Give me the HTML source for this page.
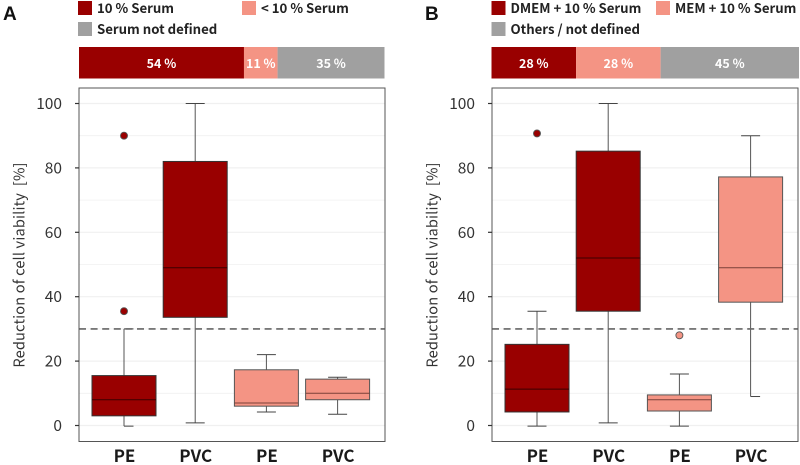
<!DOCTYPE html>
<html>
<head>
<meta charset="utf-8">
<style>
html,body{margin:0;padding:0;background:#fff;width:800px;height:465px;overflow:hidden}
svg{display:block}
text{font-family:"Noto Sans CJK JP","Liberation Sans",sans-serif}
</style>
</head>
<body>
<svg id="chart" xmlns="http://www.w3.org/2000/svg" width="800" height="465" viewBox="0 0 800 465"></svg>
<script>
const yTicks = [0, 20, 40, 60, 80, 100];
const gridValues = [0, 10, 20, 30, 40, 50, 60, 70, 80, 90, 100];
const threshold = 30;
const categoriesA = ["PE", "PVC", "PE", "PVC"];
const categoriesB = ["PE", "PVC", "PE", "PVC"];
const whiskerLowA = [-0.2, 0.8, 4.2, 3.5];
const q1A = [3, 33.6, 6, 8];
const medianA = [8, 49, 7, 10];
const q3A = [15.5, 82, 17.3, 14.4];
const whiskerHighA = [30, 100, 22, 15];
const outliersA = [[35.5, 90], [], [], []];
const groupA = [0, 0, 1, 1];
const whiskerLowB = [-0.2, 0.8, -0.2, 9];
const q1B = [4.2, 35.5, 4.5, 38.3];
const medianB = [11.3, 52, 8, 49];
const q3B = [25.2, 85.2, 9.5, 77.2];
const whiskerHighB = [35.5, 100, 16, 90];
const outliersB = [[90.7], [], [28], []];
const groupB = [0, 0, 1, 1];
const sharesA = [54, 11, 35];
const shareLabelsA = ["54 %", "11 %", "35 %"];
const sharesB = [27.5, 27.5, 45];
const shareLabelsB = ["28 %", "28 %", "45 %"];
const legendA = ["10 % Serum", "< 10 % Serum", "Serum not defined"];
const legendB = ["DMEM + 10 % Serum", "MEM + 10 % Serum", "Others / not defined"];

const colors = ["#990000", "#f49484", "#a0a0a0"];
const medianColors = ["#3a0000", "#7a4038"];
const NS = "http://www.w3.org/2000/svg";
const svg = document.getElementById("chart");

function make(tag, attrs, parent, txt) {
  const e = document.createElementNS(NS, tag);
  for (const k in attrs) e.setAttribute(k, attrs[k]);
  if (txt !== undefined) e.textContent = txt;
  parent.appendChild(e);
  return e;
}
function yScale(v) { return 425.5 - v * 3.22; }

function drawPanel(o) {
  const g = make("g", {}, svg);
  
  
  const xScale = i => o.plotX + 45 + i * 71.2;

  const letter = make("text", {x: o.letterX, y: 20, "font-size": 19, "font-weight": 700, fill: "#111", style: "font-family:'Liberation Sans',sans-serif"}, g, o.letter);
  
  

  // legend
  o.legend.forEach((label, i) => {
    const lx = i === 1 ? o.legendX2 : o.legendX1;
    const ly = i === 2 ? 22 : 1;
    const sw = make("rect", {x: lx, y: ly, width: 14, height: 14, fill: colors[i]}, g);
    
    
    const t = make("text", {x: lx + 19, y: ly + 12, "font-size": 13.2, "font-weight": 700, fill: "#222"}, g, label);
    
    
  });

  // share bar
  const total = o.shares.reduce((a, b) => a + b, 0);
  let cx = o.barX;
  o.shares.forEach((s, i) => {
    const w = s / total * o.barW;
    const r = make("rect", {x: cx, y: 47, width: w, height: 31.5, fill: colors[i]}, g);
    
    
    const t = make("text", {x: cx + w / 2, y: 68, "font-size": 12.5, "font-weight": 700, fill: "#fff", "text-anchor": "middle"}, g, o.shareLabels[i]);
    
    
    cx += w;
  });

  // plot background and grid
  const bg = make("rect", {x: o.plotX, y: 88, width: 306, height: 353.5, fill: "#fff"}, g);
  
  
  gridValues.forEach(v => {
    const l = make("line", {x1: o.plotX, x2: o.plotX + 306, y1: yScale(v), y2: yScale(v), stroke: "#f0f0f0", "stroke-width": v % 20 === 0 ? 1.2 : 0.8}, g);
    
    
  });

  // boxes
  o.categories.forEach((cat, i) => {
    const c = xScale(i);
    const bw = 64;
    const col = colors[o.group[i]];
    const edge = o.group[i] === 0 ? "#333" : "#555";
    const w1 = make("line", {x1: c, x2: c, y1: yScale(o.q3[i]), y2: yScale(o.high[i]), stroke: "#555", "stroke-width": 1}, g);
    
    
    const w2 = make("line", {x1: c, x2: c, y1: yScale(o.q1[i]), y2: yScale(o.low[i]), stroke: "#555", "stroke-width": 1}, g);
    
    
    const capU = o.capUpper[i];
    const capL = o.capLower[i];
    const c1 = make("line", {x1: c + capU, x2: c + 9.5, y1: yScale(o.high[i]), y2: yScale(o.high[i]), stroke: "#444", "stroke-width": 1}, g);
    
    
    const c2 = make("line", {x1: c + capL, x2: c + 9.5, y1: yScale(o.low[i]), y2: yScale(o.low[i]), stroke: "#444", "stroke-width": 1}, g);
    
    
    const b = make("rect", {x: c - bw / 2, y: yScale(o.q3[i]), width: bw, height: yScale(o.q1[i]) - yScale(o.q3[i]), fill: col, stroke: edge, "stroke-width": 1}, g);
    
    
    const m = make("line", {x1: c - bw / 2, x2: c + bw / 2, y1: yScale(o.median[i]), y2: yScale(o.median[i]), stroke: medianColors[o.group[i]], "stroke-width": 1}, g);
    
    
    o.outliers[i].forEach(v => {
      const p = make("circle", {cx: c, cy: yScale(v), r: 3.5, fill: col, stroke: "#555", "stroke-width": 0.9}, g);
      
      
    });
    const t = make("text", {x: c + 0.5, y: 462, "font-size": 17, "font-weight": 700, fill: "#1a1a1a", "text-anchor": "middle"}, g, cat);
    
    
  });

  // threshold
  const th = make("line", {x1: o.plotX, x2: o.plotX + 306, y1: yScale(threshold), y2: yScale(threshold), stroke: "#666", "stroke-width": 1.6, "stroke-dasharray": "7 4.6"}, g);
  
  

  // frame
  const f = make("rect", {x: o.plotX, y: 88, width: 306, height: 353.5, fill: "none", stroke: "#555", "stroke-width": 1}, g);
  
  

  // y axis
  yTicks.forEach(v => {
    const tk = make("line", {x1: o.plotX - 4, x2: o.plotX, y1: yScale(v), y2: yScale(v), stroke: "#333", "stroke-width": 1.2}, g);
    
    
    const t = make("text", {x: o.plotX - 17, y: yScale(v) + 5.5, "font-size": 15.5, fill: "#333", "text-anchor": "end"}, g, String(v));
    
    
  });
  const yt = make("text", {x: 0, y: 0, transform: "translate(" + (o.plotX - 54.5) + ",265) rotate(-90)", "font-size": 14.6, "letter-spacing": 0.15, fill: "#333", "text-anchor": "middle"}, g, "Reduction of cell viability\u00a0\u00a0[%]");
  
  
}

drawPanel({
  letter: "A", letterX: 3, legendX1: 78, legendX2: 242, plotX: 79, barX: 79, barW: 305.5,
  legend: legendA, shares: sharesA, shareLabels: shareLabelsA, categories: categoriesA, group: groupA,
  low: whiskerLowA, q1: q1A, median: medianA, q3: q3A, high: whiskerHighA, outliers: outliersA,
  capUpper: [0, -9.5, -9.5, -9.5], capLower: [0, -9.5, -9.5, -9.5]
});
drawPanel({
  letter: "B", letterX: 425, legendX1: 491.5, legendX2: 656, plotX: 492, barX: 491.5, barW: 307.5,
  legend: legendB, shares: sharesB, shareLabels: shareLabelsB, categories: categoriesB, group: groupB,
  low: whiskerLowB, q1: q1B, median: medianB, q3: q3B, high: whiskerHighB, outliers: outliersB,
  capUpper: [-9.5, -9.5, -9.5, -9.5], capLower: [-9.5, -9.5, -9.5, 0]
});
</script>
</body>
</html>
